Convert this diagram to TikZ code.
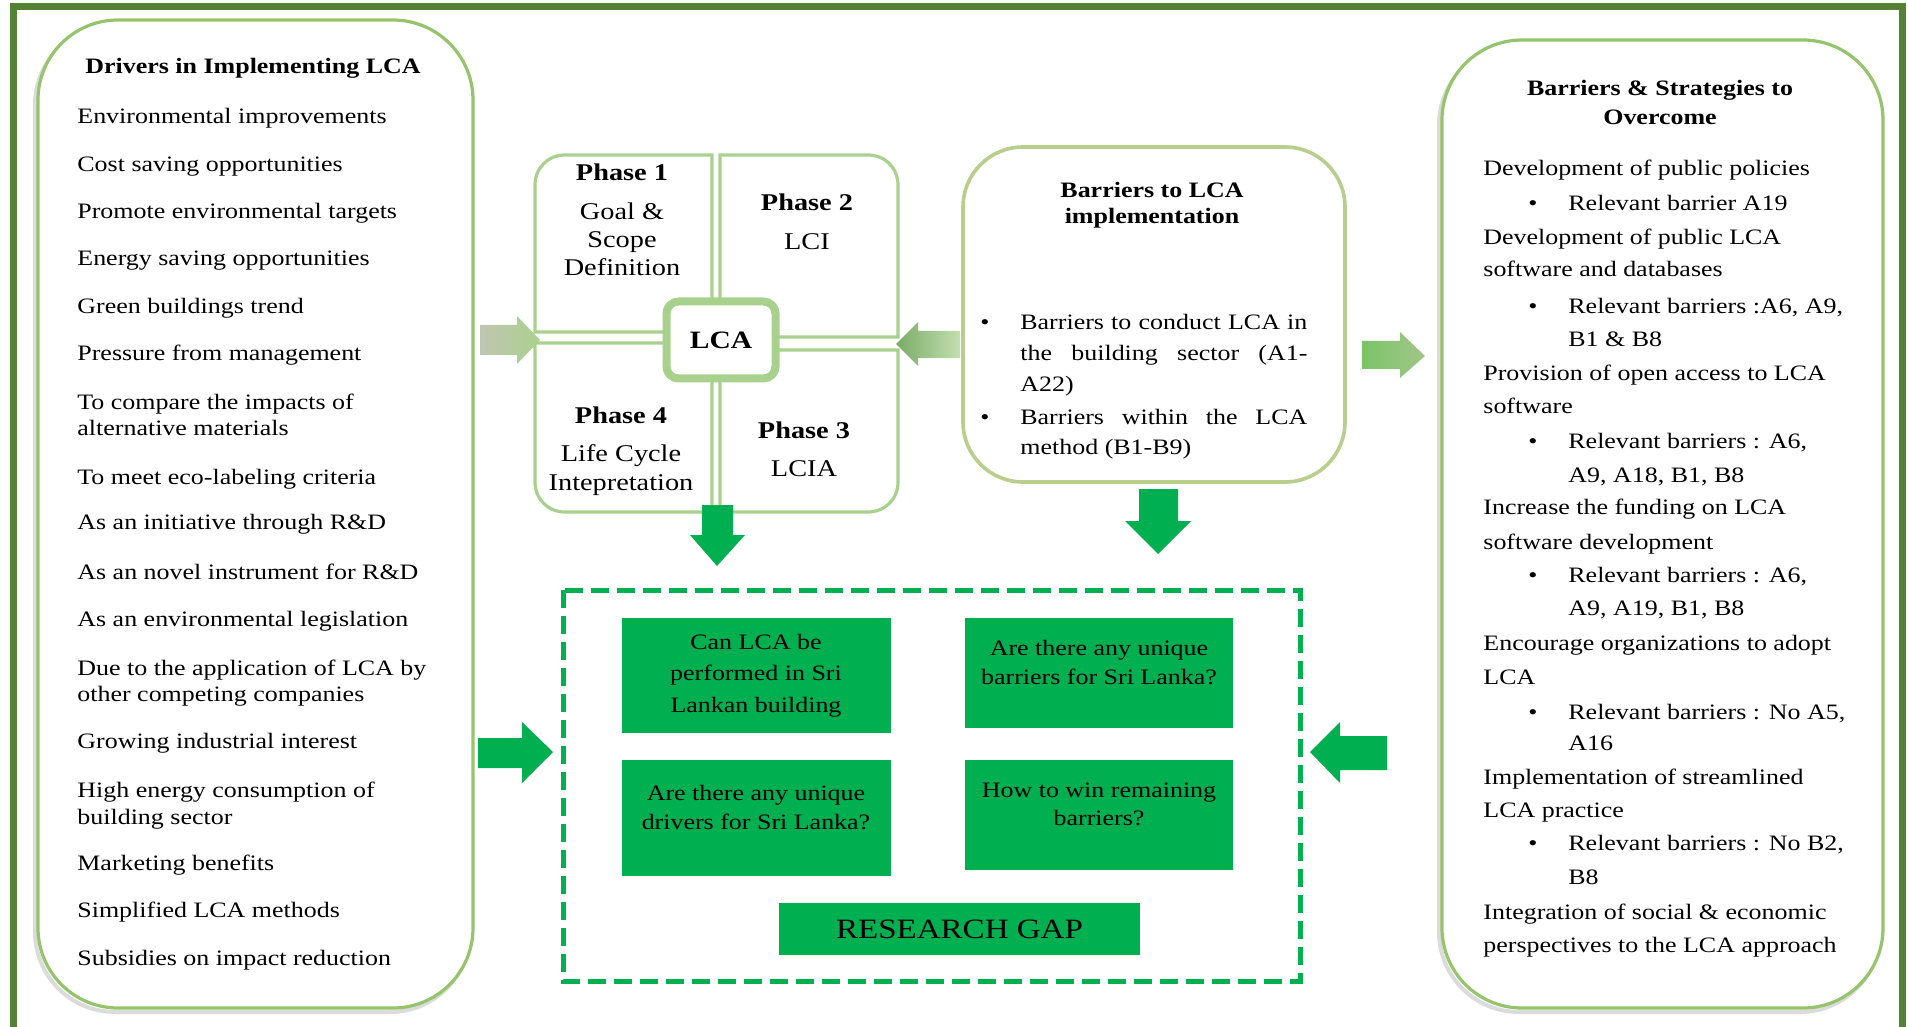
\documentclass[tikz,border=0pt]{standalone}
\usepackage{fontspec}
\setmainfont{Liberation Serif}[FakeStretch=1.18]
\definecolor{framegreen}{RGB}{84,130,53}
\definecolor{lgreen}{RGB}{169,209,142}
\definecolor{bgreen}{RGB}{150,196,108}
\definecolor{ogreen}{RGB}{185,205,140}
\definecolor{vgreen}{RGB}{0,176,80}
\definecolor{grayarrow}{RGB}{192,198,178}
\begin{document}
\begin{tikzpicture}[x=0.5pt,y=-0.5pt,
  txt/.style={inner sep=0pt, font=\fontsize{11}{13}\selectfont, anchor=base west},
  ttl/.style={inner sep=0pt, font=\bfseries\fontsize{11}{13}\selectfont, anchor=base},
  ph/.style={inner sep=0pt, font=\fontsize{12}{14}\selectfont, anchor=base},
  phb/.style={inner sep=0pt, font=\bfseries\fontsize{12}{14}\selectfont, anchor=base},
  gq/.style={inner sep=0pt, font=\fontsize{11}{13}\selectfont, anchor=base},
  bul/.style={inner sep=0pt, font=\fontsize{11}{13}\selectfont, anchor=base},
  panel/.style={draw=bgreen, line width=1.6pt, fill=white},
  shadowline/.style={draw=black!14, line width=2pt},
  quad/.style={draw=lgreen, line width=1.6pt, fill=white},
  gbox/.style={fill=vgreen, inner sep=0pt},
  vivid/.style={fill=vgreen}
]
\useasboundingbox (0,0) rectangle (1908,1027);
\fill[white] (0,0) rectangle (1908,1027);

% outer frame
\draw[framegreen, line width=3.5pt] (13,1027) -- (13,7) -- (1902,7) -- (1902,1027);

% ---------- left panel ----------
\draw[shadowline, rounded corners=40pt] (35,25) rectangle (470,1012);
\draw[panel, rounded corners=40pt] (38,20) rectangle (473,1008);
\node[ttl] (dtitle) at (253,74) {Drivers in Implementing LCA};
\foreach \yy/\lbl [count=\i] in {
  124/{Environmental improvements},
  172/{Cost saving opportunities},
  219/{Promote environmental targets},
  266/{Energy saving opportunities},
  314/{Green buildings trend},
  361/{Pressure from management},
  409/{To compare the impacts of},
  436/{alternative materials},
  485/{To meet eco-labeling criteria},
  530/{As an initiative through R\&D},
  579/{As an novel instrument for R\&D},
  626/{As an environmental legislation},
  675/{Due to the application of LCA by},
  701/{other competing companies},
  748/{Growing industrial interest},
  797/{High energy consumption of},
  824/{building sector},
  870/{Marketing benefits},
  917/{Simplified LCA methods},
  965/{Subsidies on impact reduction}}
  {\node[txt] (d\i) at (77,\yy) {\lbl};}

% ---------- LCA phases ----------
\draw[quad] (712,332) -- (535,332) -- (535,185) .. controls (535,168) and (548,155) .. (565,155) -- (712,155) -- cycle;
\draw[quad] (720,337) -- (720,155) -- (868,155) .. controls (885,155) and (898,168) .. (898,185) -- (898,337) -- cycle;
\draw[quad] (712,343) -- (535,343) -- (535,482) .. controls (535,499) and (548,512) .. (565,512) -- (712,512) -- cycle;
\draw[quad] (720,350) -- (720,512) -- (868,512) .. controls (885,512) and (898,499) .. (898,482) -- (898,350) -- cycle;

\node[phb] (p1) at (622,181) {Phase 1};
\node[ph] (p1a) at (622,220) {Goal \&};
\node[ph] (p1b) at (622,248) {Scope};
\node[ph] (p1c) at (622,276) {Definition};
\node[phb] (p2) at (807,211) {Phase 2};
\node[ph] (p2a) at (807,250) {LCI};
\node[phb] (p4) at (621,423) {Phase 4};
\node[ph] (p4a) at (621,461) {Life Cycle};
\node[ph] (p4b) at (621,490) {Intepretation};
\node[phb] (p3) at (804,438) {Phase 3};
\node[ph] (p3a) at (804,476) {LCIA};

\node[draw=lgreen, line width=4pt, fill=white, rounded corners=6pt,
      minimum width=54.5pt, minimum height=38.5pt, inner sep=0pt,
      font=\bfseries\fontsize{12.5}{14}\selectfont] (lca) at (721,340) {LCA};

% ---------- barriers box ----------
\draw[draw=ogreen, line width=1.8pt, fill=white, rounded corners=30pt] (963,147) rectangle (1345,482);
\node[ttl] (bt1) at (1152,198) {Barriers to LCA};
\node[ttl] (bt2) at (1152,224) {implementation};
\node[bul] (bb1) at (985,330) {\textbullet};
\node[bul] (bb2) at (985,425) {\textbullet};
\node[txt] (bl1) at (1020,330) {\makebox[143.5pt][s]{Barriers to conduct LCA in}};
\node[txt] (bl2) at (1020,361) {\makebox[143.5pt][s]{the building sector (A1-}};
\node[txt] (bl3) at (1020,392) {A22)};
\node[txt] (bl4) at (1020,425) {\makebox[143.5pt][s]{Barriers within the LCA}};
\node[txt] (bl5) at (1020,455) {method (B1-B9)};

% ---------- right panel ----------
\draw[shadowline, rounded corners=40pt] (1439,45) rectangle (1880,1012);
\draw[panel, rounded corners=40pt] (1442,40) rectangle (1883,1008);
\node[ttl] (rt1) at (1660,96) {Barriers \& Strategies to};
\node[ttl] (rt2) at (1660,125) {Overcome};
\foreach \xx/\yy/\lbl [count=\i] in {
  1483/176/{Development of public policies},
  1568/211/{Relevant barrier A19},
  1483/245/{Development of public LCA},
  1483/277/{software and databases},
  1568/314/{Relevant barriers :A6, A9,},
  1568/347/{B1 \& B8},
  1483/380/{Provision of open access to LCA},
  1483/414/{software},
  1568/449/{Relevant barriers : A6,},
  1568/482/{A9, A18, B1, B8},
  1483/515/{Increase the funding on LCA},
  1483/549/{software development},
  1568/582/{Relevant barriers : A6,},
  1568/615/{A9, A19, B1, B8},
  1483/650/{Encourage organizations to adopt},
  1483/684/{LCA},
  1568/719/{Relevant barriers : No A5,},
  1568/750/{A16},
  1483/784/{Implementation of streamlined},
  1483/817/{LCA practice},
  1568/850/{Relevant barriers : No B2,},
  1568/884/{B8},
  1483/919/{Integration of social \& economic},
  1483/952/{perspectives to the LCA approach}}
  {\node[txt] (r\i) at (\xx,\yy) {\lbl};}
\foreach \yy [count=\i] in {211,314,449,582,719,850}
  {\node[bul] (rb\i) at (1533,\yy) {\textbullet};}

% ---------- research gap ----------
\draw[vgreen, line width=2.5pt, dash pattern=on 9pt off 4pt] (563,590) rectangle (1300,981);
\node[gbox, minimum width=134.5pt, minimum height=57.5pt] (g1) at (756.5,675.5) {};
\node[gbox, minimum width=134pt, minimum height=55pt] (g2) at (1099,673) {};
\node[gbox, minimum width=134.5pt, minimum height=58pt] (g3) at (756.5,818) {};
\node[gbox, minimum width=134pt, minimum height=55pt] (g4) at (1099,815) {};
\node[gq] (g1a) at (756,649) {Can LCA be};
\node[gq] (g1b) at (756,680) {performed in Sri};
\node[gq] (g1c) at (756,712) {Lankan building};
\node[gq] (g2a) at (1099,655) {Are there any unique};
\node[gq] (g2b) at (1099,684) {barriers for Sri Lanka?};
\node[gq] (g3a) at (756,800) {Are there any unique};
\node[gq] (g3b) at (756,829) {drivers for Sri Lanka?};
\node[gq] (g4a) at (1099,797) {How to win remaining};
\node[gq] (g4b) at (1099,825) {barriers?};
\node[gbox, minimum width=180.5pt, minimum height=26pt,
      font=\fontsize{14}{16}\selectfont] (rg) at (959.5,929) {RESEARCH GAP};

% ---------- block arrows ----------
\shade[left color=grayarrow, right color=lgreen]
  (480,325) -- (517,325) -- (517,316) -- (540,340) -- (517,364) -- (517,355) -- (480,355) -- cycle;
\shade[left color=lgreen!90!green!80!black, right color=lgreen!70]
  (960,331) -- (918,331) -- (918,322) -- (896,344) -- (918,366) -- (918,358) -- (960,358) -- cycle;
\shade[left color=lgreen!80!green!90!black, right color=lgreen!85!gray]
  (1362,341) -- (1400,341) -- (1400,332) -- (1425,356) -- (1400,378) -- (1400,369) -- (1362,369) -- cycle;
\fill[vivid] (702,505) -- (733,505) -- (733,535) -- (745,535) -- (717,566) -- (690,535) -- (702,535) -- cycle;
\fill[vivid] (1139,489) -- (1178,489) -- (1178,521) -- (1191,521) -- (1158,554) -- (1125,521) -- (1139,521) -- cycle;
\fill[vivid] (478,738) -- (522,738) -- (522,722) -- (553,752) -- (522,783) -- (522,768) -- (478,768) -- cycle;
\fill[vivid] (1387,736) -- (1340,736) -- (1340,722) -- (1310,752) -- (1340,783) -- (1340,770) -- (1387,770) -- cycle;
\end{tikzpicture}
\end{document}
